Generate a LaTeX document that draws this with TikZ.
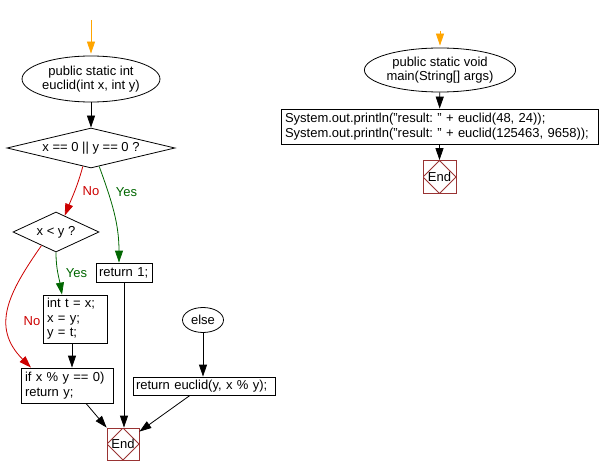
\documentclass[tikz,border=0pt]{standalone}
\usepackage{fontspec}
\setmainfont{Liberation Sans}
\usetikzlibrary{arrows.meta,shapes.geometric}
\definecolor{flowred}{RGB}{204,0,0}
\definecolor{flowgreen}{RGB}{0,102,0}
\definecolor{flowend}{RGB}{153,51,51}
\definecolor{flowstart}{RGB}{255,165,0}
\frenchspacing

\begin{document}
\begin{tikzpicture}[
  x=1pt, y=1pt, line width=0.8pt,
  font=\fontsize{13}{14.5}\selectfont,
  every node/.style={inner sep=0pt},
  oval/.style={draw, ellipse, align=center},
  test/.style={draw, diamond},
  box/.style={draw, rectangle, align=left, inner xsep=4pt},
  endbox/.style={draw=flowend, rectangle, minimum size=32pt,
    path picture={\draw[flowend] (path picture bounding box.north)
      -- (path picture bounding box.east) -- (path picture bounding box.south)
      -- (path picture bounding box.west) -- cycle;}},
  arr/.style={-{Triangle[length=12pt,width=8pt]}},
  inarr/.style={arr, draw=flowstart, shorten >=2pt},
  noarr/.style={arr, draw=flowred},
  yesarr/.style={arr, draw=flowgreen}
]
\useasboundingbox (0,0) rectangle (600,-476);

% euclid
\coordinate (in1) at (91,-20);
\node[oval, minimum width=123pt, minimum height=46pt] (euclid) at (91,-79)
  {public static int\\euclid(int x, int y)};
\node[test, aspect=4.2, minimum width=168pt, minimum height=40pt] (zero) at (91,-148)
  {x == 0 || y == 0 ?};
\node[test, aspect=2.15, minimum width=86pt, minimum height=40pt] (less) at (56,-232)
  {x < y ?};
\node[box, inner xsep=3pt, text width=50pt, minimum height=19pt] (ret1) at (124,-272.5)
  {return 1;};
\node[box, text width=56pt, minimum height=48pt] (swap) at (75,-319)
  {int t = x;\\x = y;\\y = t;};
\node[box, text width=84pt, minimum height=35pt] (mod) at (67,-385.5)
  {if x \% y == 0)\\return y;};
\node[oval, minimum width=41pt, minimum height=25pt] (else) at (203,-320) {else};
\node[box, inner xsep=3pt, text width=136pt, minimum height=18pt] (recur) at (204,-386)
  {return euclid(y, x \% y);};
\node[endbox] (end1) at (123,-444) {End};

\node[text=flowred] (no1) at (91,-191) {No};
\node[text=flowgreen] (yes1) at (126.5,-192) {Yes};
\node[text=flowgreen] (yes2) at (76.5,-273) {Yes};
\node[text=flowred] (no2) at (32,-321) {No};

\draw[inarr] (in1) -- (euclid.north);
\draw[arr] (euclid) -- (zero);
\draw[noarr] (zero.-114) to[out=-105,in=68] (less.62);
\draw[yesarr] (zero.-66) to[out=-70,in=90] ([xshift=-5pt]ret1.north);
\draw[yesarr] (less.south) to[out=-90,in=100] ([xshift=-13pt]swap.north);
\draw[noarr] (less.-137) to[out=-125,in=135,looseness=1.2] ([xshift=-36pt]mod.north);
\draw[arr] ([xshift=-3pt]swap.south) -- ([xshift=-3pt]swap.south |- mod.north);
\draw[arr] (ret1.south) -- (ret1.south |- end1.north);
\draw[arr] ([xshift=19pt]mod.south) -- (end1.north west);
\draw[arr] (else) -- (else |- recur.north);
\draw[arr] ([xshift=-14pt]recur.south) -- ([yshift=-4pt]end1.north east);

% main
\coordinate (in2) at (440,-31);
\node[oval, minimum width=130pt, minimum height=44pt] (main) at (440,-70)
  {public static void\\main(String[] args)};
\node[box, text width=309pt, minimum height=35pt] (print) at (439.5,-126.5)
  {System.out.println("result: " + euclid(48, 24));\\
   System.out.println("result: " + euclid(125463, 9658));};
\node[endbox, minimum size=33pt] (end2) at (439.5,-177) {End};

\draw[inarr] (in2) -- (main.north);
\draw[arr] (main) -- (print);
\draw[arr] (print) -- (end2);
\end{tikzpicture}
\end{document}
